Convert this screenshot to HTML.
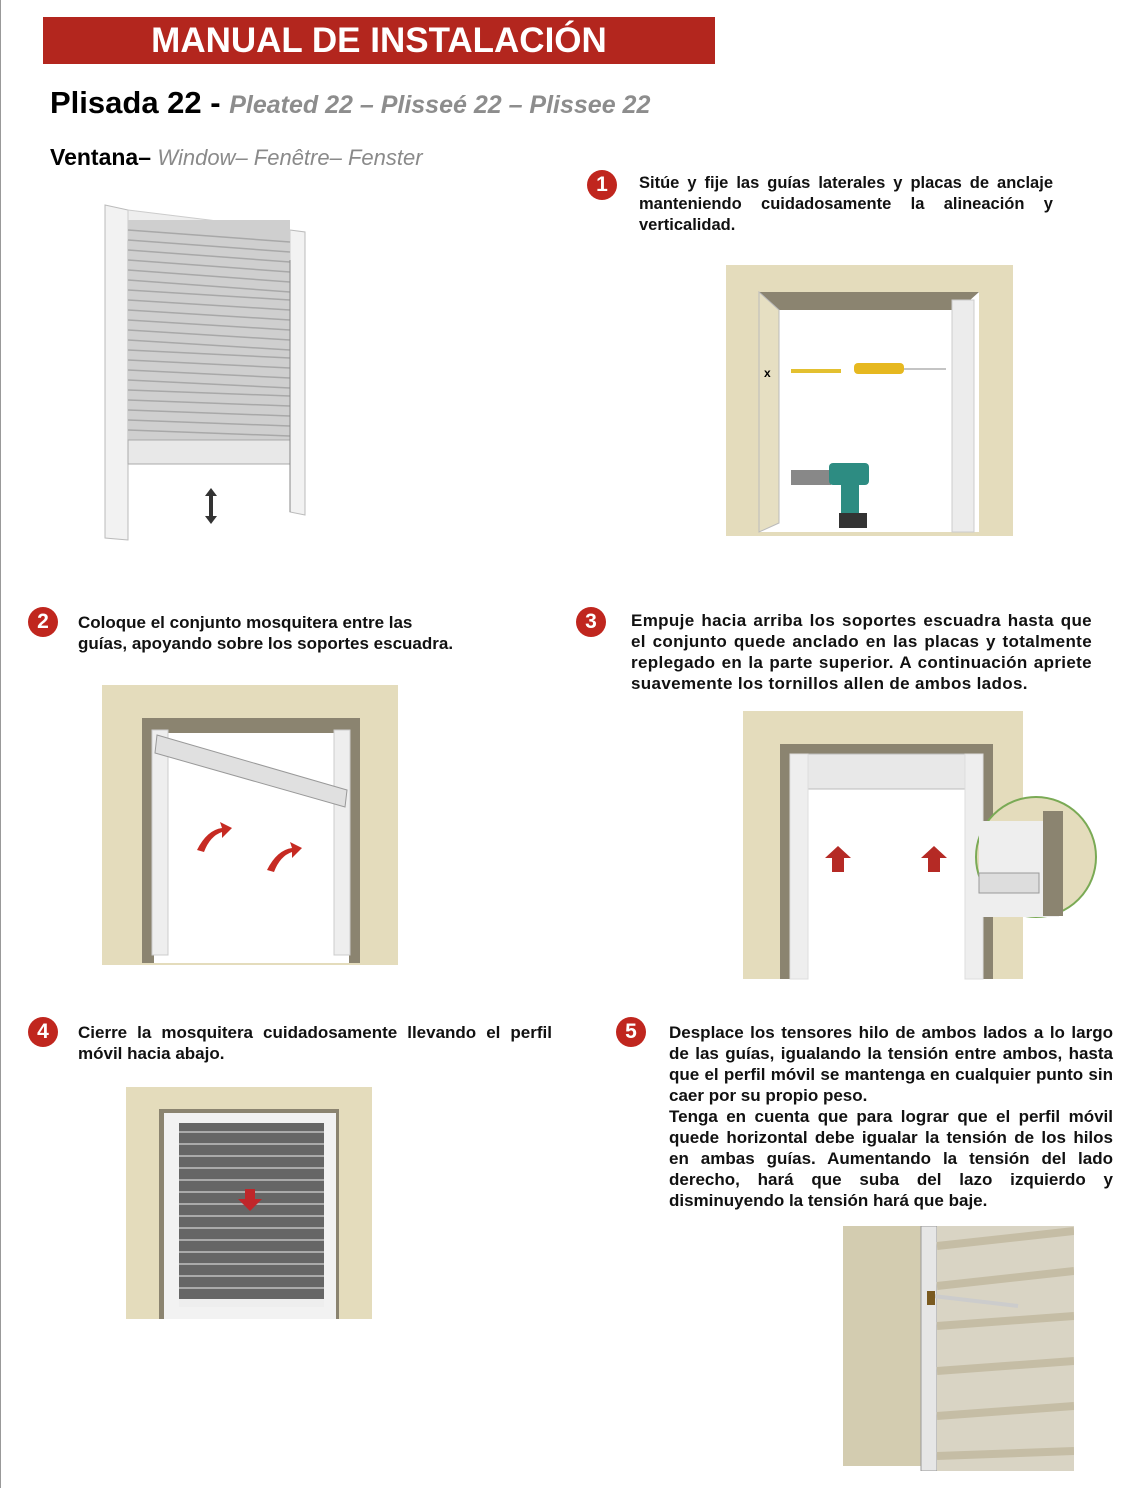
<!DOCTYPE html>
<html><head><meta charset="utf-8"><style>
body{margin:0;width:1124px;height:1488px;background:#fff;position:relative;overflow:hidden;font-family:"Liberation Sans",sans-serif}
.a{position:absolute}
.banner{left:43px;top:17px;width:672px;height:47px;background:#b3261e;color:#fff;font-weight:bold;font-size:35px;text-align:center;line-height:48px}
.c{position:absolute;width:30px;height:30px;border-radius:50%;background:#c0261e;color:#fff;font-weight:bold;font-size:21px;text-align:center;line-height:30px}
.t{position:absolute;font-weight:bold;font-size:17px;line-height:21px;text-align:justify;color:#111}
.g{color:#8a8a8a;font-style:italic}
</style></head><body>
<div class="a" style="left:0;top:0;width:1px;height:1488px;background:#999"></div>
<div class="a banner">MANUAL DE INSTALACIÓN</div>
<div class="a" style="left:50px;top:85px;font-size:31px;font-weight:bold;white-space:nowrap">Plisada 22 - <span class="g" style="font-size:25px;color:#8d8d8d">Pleated 22 – Plisseé 22 – Plissee 22</span></div>
<div class="a" style="left:50px;top:144px;font-size:23px;font-weight:bold;white-space:nowrap">Ventana– <span class="g" style="font-size:22px;font-weight:normal">Window– Fenêtre– Fenster</span></div>

<svg class="a" style="left:100px;top:200px" width="212" height="345">
<polygon points="5,5 28,10 28,340 5,338" fill="#f2f2f2" stroke="#bbb"/>
<polygon points="190,30 205,32 205,315 190,312" fill="#f2f2f2" stroke="#bbb"/>
<polygon points="28,10 190,30 190,60 28,40" fill="#eee" stroke="#ccc"/>
<rect x="28" y="20" width="162" height="220" fill="#cfcfcf"/>
<g stroke="#a8a8a8" stroke-width="1.5">
<line x1="28" y1="30" x2="190" y2="42"/><line x1="28" y1="40" x2="190" y2="52"/><line x1="28" y1="50" x2="190" y2="62"/><line x1="28" y1="60" x2="190" y2="72"/><line x1="28" y1="70" x2="190" y2="82"/><line x1="28" y1="80" x2="190" y2="92"/><line x1="28" y1="90" x2="190" y2="100"/><line x1="28" y1="100" x2="190" y2="110"/><line x1="28" y1="110" x2="190" y2="120"/><line x1="28" y1="120" x2="190" y2="130"/><line x1="28" y1="130" x2="190" y2="140"/><line x1="28" y1="140" x2="190" y2="150"/><line x1="28" y1="150" x2="190" y2="158"/><line x1="28" y1="160" x2="190" y2="168"/><line x1="28" y1="170" x2="190" y2="178"/><line x1="28" y1="180" x2="190" y2="188"/><line x1="28" y1="190" x2="190" y2="196"/><line x1="28" y1="200" x2="190" y2="206"/><line x1="28" y1="210" x2="190" y2="216"/><line x1="28" y1="220" x2="190" y2="226"/><line x1="28" y1="230" x2="190" y2="236"/>
</g>
<rect x="28" y="240" width="162" height="24" fill="#e8e8e8" stroke="#aaa"/>
<line x1="190" y1="60" x2="190" y2="312" stroke="#888"/>
<path d="M111 288 l-6 8 h4 v20 h-4 l6 8 l6 -8 h-4 v-20 h4z" fill="#333"/>
</svg>

<div class="c" style="left:587px;top:170px">1</div>
<div class="t" style="left:639px;top:173px;width:414px;font-size:16.5px">Sitúe y fije las guías laterales y placas de anclaje manteniendo cuidadosamente la alineación y verticalidad.</div>

<svg class="a" style="left:726px;top:265px" width="287" height="271">
<rect width="287" height="271" fill="#e4dcbc"/>
<polygon points="33,27 253,27 253,267 33,267" fill="#fff"/>
<polygon points="33,27 253,27 233,45 53,45" fill="#8b8470"/>
<polygon points="33,27 53,45 53,258 33,267" fill="#e6dfc2" stroke="#bbb"/>
<rect x="226" y="35" width="22" height="232" fill="#ececec" stroke="#ccc"/>
<text x="38" y="112" font-size="12" font-weight="bold" font-family="Liberation Sans">x</text>
<rect x="65" y="104" width="50" height="4" fill="#e3c030"/>
<rect x="128" y="98" width="50" height="11" rx="4" fill="#e6b820"/>
<line x1="178" y1="104" x2="220" y2="104" stroke="#888"/>
<rect x="65" y="205" width="40" height="15" fill="#888"/>
<rect x="103" y="198" width="40" height="22" rx="4" fill="#2d8c82"/>
<rect x="115" y="218" width="18" height="35" fill="#2d8c82"/>
<rect x="113" y="248" width="28" height="15" fill="#333"/>
</svg>

<div class="c" style="left:28px;top:607px">2</div>
<div class="t" style="left:78px;top:612px;width:420px;text-align:left">Coloque el conjunto mosquitera entre las<br>guías, apoyando sobre los soportes escuadra.</div>

<svg class="a" style="left:102px;top:685px" width="296" height="280">
<rect width="296" height="280" fill="#e4dcbc"/>
<rect x="40" y="33" width="218" height="245" fill="#fff"/>
<polygon points="40,33 258,33 245,48 55,48" fill="#8b8470"/>
<rect x="40" y="33" width="12" height="245" fill="#8b8470"/>
<rect x="247" y="33" width="11" height="245" fill="#8b8470"/>
<rect x="50" y="45" width="16" height="225" fill="#eee" stroke="#ccc"/>
<rect x="232" y="45" width="16" height="225" fill="#eee" stroke="#ccc"/>
<polygon points="55,50 245,105 243,122 53,68" fill="#e0e0e0" stroke="#999"/>
<path d="M95 165 q10 -20 25 -22 l-2 -6 l12 6 l-10 10 l0 -6 q-12 4 -18 20z" fill="#c62a22"/>
<path d="M165 185 q10 -20 25 -22 l-2 -6 l12 6 l-10 10 l0 -6 q-12 4 -18 20z" fill="#c62a22"/>
</svg>

<div class="c" style="left:576px;top:607px">3</div>
<div class="t" style="left:631px;top:610px;width:461px;letter-spacing:0.35px">Empuje hacia arriba los soportes escuadra hasta que el conjunto quede anclado en las placas y totalmente replegado en la parte superior. A continuación apriete suavemente los tornillos allen de ambos lados.</div>

<svg class="a" style="left:743px;top:711px" width="360" height="270">
<rect width="280" height="268" fill="#e4dcbc"/>
<rect x="37" y="33" width="213" height="235" fill="#fff"/>
<rect x="37" y="33" width="213" height="10" fill="#8b8470"/>
<rect x="37" y="33" width="10" height="235" fill="#8b8470"/>
<rect x="240" y="33" width="10" height="235" fill="#8b8470"/>
<rect x="47" y="43" width="193" height="35" fill="#e8e8e8" stroke="#bbb"/>
<rect x="47" y="43" width="18" height="225" fill="#eee" stroke="#ddd"/>
<rect x="222" y="43" width="18" height="225" fill="#eee" stroke="#ddd"/>
<path d="M95 135 l-13 12 h7 v14 h12 v-14 h7z" fill="#b52a25"/>
<path d="M191 135 l-13 12 h7 v14 h12 v-14 h7z" fill="#b52a25"/>
<circle cx="293" cy="146" r="60" fill="#e4dcbc" stroke="#7aaa55" stroke-width="2"/>
<rect x="236" y="110" width="80" height="96" fill="#eee"/>
<rect x="300" y="100" width="20" height="105" fill="#8b8470"/>
<rect x="236" y="162" width="60" height="20" fill="#ddd" stroke="#999"/>
</svg>

<div class="c" style="left:28px;top:1017px">4</div>
<div class="t" style="left:78px;top:1022px;width:474px">Cierre la mosquitera cuidadosamente llevando el perfil móvil hacia abajo.</div>

<svg class="a" style="left:126px;top:1087px" width="246" height="232">
<rect width="246" height="232" fill="#e4dcbc"/>
<rect x="33" y="22" width="180" height="210" fill="#8b8470"/>
<rect x="38" y="26" width="172" height="206" fill="#f2f2f2"/>
<rect x="53" y="36" width="145" height="180" fill="#666"/>
<g stroke="#aaa" stroke-width="2">
<line x1="53" y1="45" x2="198" y2="45"/><line x1="53" y1="57" x2="198" y2="57"/><line x1="53" y1="69" x2="198" y2="69"/><line x1="53" y1="81" x2="198" y2="81"/><line x1="53" y1="93" x2="198" y2="93"/><line x1="53" y1="105" x2="198" y2="105"/><line x1="53" y1="117" x2="198" y2="117"/><line x1="53" y1="129" x2="198" y2="129"/><line x1="53" y1="141" x2="198" y2="141"/><line x1="53" y1="153" x2="198" y2="153"/><line x1="53" y1="165" x2="198" y2="165"/><line x1="53" y1="177" x2="198" y2="177"/><line x1="53" y1="189" x2="198" y2="189"/><line x1="53" y1="201" x2="198" y2="201"/>
</g>
<rect x="53" y="212" width="145" height="8" fill="#eee"/>
<path d="M124 124 l-12 -12 h7 v-10 h10 v10 h7z" fill="#c0262a"/>
</svg>

<div class="c" style="left:616px;top:1017px">5</div>
<div class="t" style="left:669px;top:1022px;width:444px">Desplace los tensores hilo de ambos lados a lo largo de las guías, igualando la tensión entre ambos, hasta que el perfil móvil se mantenga en cualquier punto sin caer por su propio peso.<br>Tenga en cuenta que para lograr que el perfil móvil quede horizontal debe igualar la tensión de los hilos en ambas guías. Aumentando la tensión del lado derecho, hará que suba del lazo izquierdo y disminuyendo la tensión hará que baje.</div>

<svg class="a" style="left:843px;top:1226px" width="231" height="245">
<rect width="231" height="245" fill="#fff"/>
<rect x="0" y="0" width="80" height="240" fill="#d3ccb0"/>
<rect x="78" y="0" width="16" height="245" fill="#e6e6e6" stroke="#999"/>
<rect x="94" y="0" width="137" height="245" fill="#d9d4c4"/>
<g stroke="#c5bda5" stroke-width="8">
<line x1="94" y1="20" x2="231" y2="5"/><line x1="94" y1="60" x2="231" y2="45"/><line x1="94" y1="100" x2="231" y2="90"/><line x1="94" y1="145" x2="231" y2="135"/><line x1="94" y1="190" x2="231" y2="180"/><line x1="94" y1="230" x2="231" y2="225"/>
</g>
<line x1="90" y1="70" x2="175" y2="80" stroke="#ccc" stroke-width="4"/>
<rect x="84" y="65" width="8" height="14" fill="#7a5a20"/>
</svg>
</body></html>
